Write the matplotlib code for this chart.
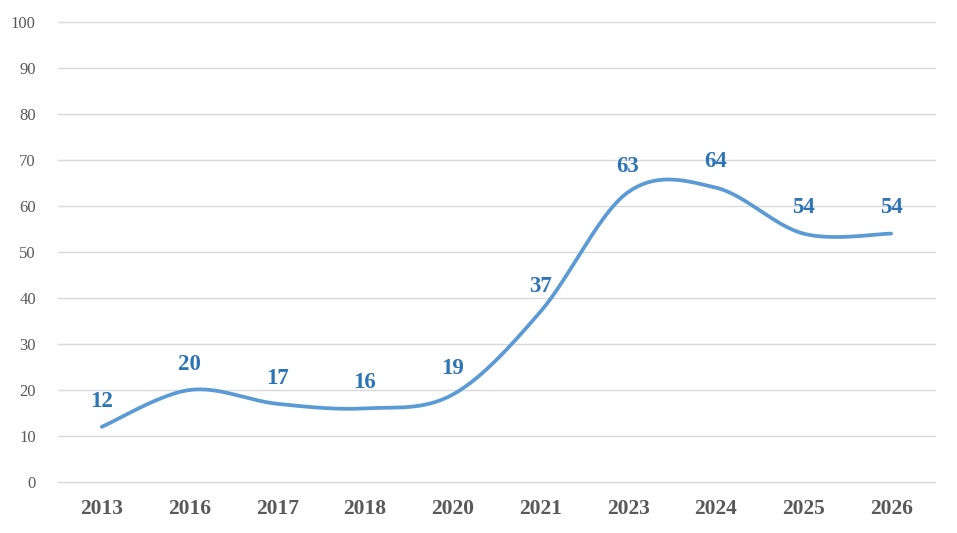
import numpy as np
import matplotlib.pyplot as plt

years = ["2013", "2016", "2017", "2018", "2020", "2021", "2023", "2024", "2025", "2026"]
values = [12, 20, 17, 16, 19, 37, 63, 64, 54, 54]

plt.rcParams['font.family'] = ['Liberation Serif', 'DejaVu Serif']

fig = plt.figure(figsize=(9.57, 5.33), dpi=100)
ax = fig.add_axes([58/957, 51/533, 877/957, 460/533])

# Excel-artige Glaettung (Bezier mit Catmull-Rom Kontrollpunkten)
x = np.arange(len(values), dtype=float)
y = np.array(values, dtype=float)
xs, ys = [], []
t = np.linspace(0, 1, 40)
for i in range(len(x) - 1):
    p0 = np.array([x[max(i-1, 0)], y[max(i-1, 0)]])
    p1 = np.array([x[i], y[i]])
    p2 = np.array([x[i+1], y[i+1]])
    p3 = np.array([x[min(i+2, len(x)-1)], y[min(i+2, len(x)-1)]])
    c1 = p1 + (p2 - p0) / 6
    c2 = p2 - (p3 - p1) / 6
    b = ((1-t)**3)[:, None]*p1 + (3*(1-t)**2*t)[:, None]*c1 + (3*(1-t)*t**2)[:, None]*c2 + (t**3)[:, None]*p2
    xs.extend(b[:, 0]); ys.extend(b[:, 1])

ax.plot(xs, ys, color="#5B9BD5", lw=2.7, solid_capstyle="round", zorder=3)

for xi, v in zip(x, values):
    ax.annotate(str(v), (xi, v), xytext=(0, 18.5), textcoords="offset points",
                ha="center", va="center", fontsize=16.5, fontweight="bold", color="#2E75B6")

ax.set_xlim(-0.5, len(values) - 0.5)
ax.set_ylim(0, 100)
ax.set_yticks(range(0, 101, 10))
ax.set_xticks(x)
ax.set_xticklabels(years, fontsize=15.5, fontweight="bold", color="#595959")
ax.tick_params(axis="y", labelsize=12, labelcolor="#595959", length=0, pad=16)
ax.tick_params(axis="x", length=0, pad=12)
ax.grid(axis="y", color="#D9D9D9", lw=1)
for gl in ax.get_ygridlines():
    gl.set_clip_on(False)
ax.set_axisbelow(True)
for s in ax.spines.values():
    s.set_visible(False)

fig.savefig("out.png", dpi=100)
